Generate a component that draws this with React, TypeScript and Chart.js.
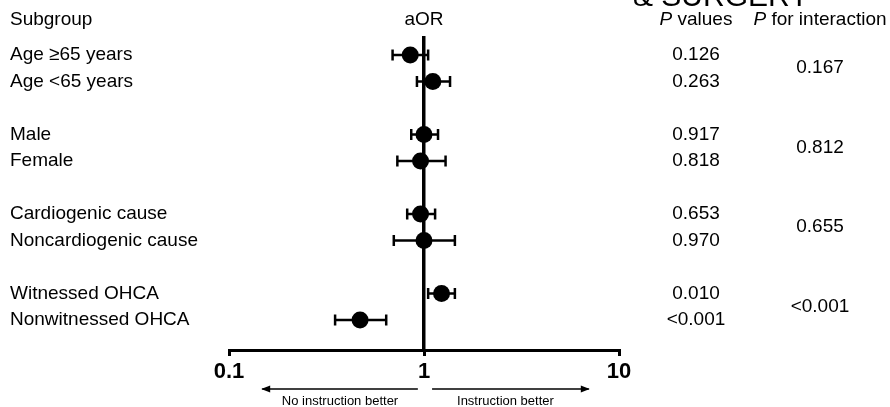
import React, { useEffect, useRef } from "react";
import { Chart, registerables } from "chart.js";

Chart.register(...registerables);

const FONT = '"Liberation Sans", Arial, sans-serif';

const subgroups = [
  "Age ≥65 years",
  "Age <65 years",
  "Male",
  "Female",
  "Cardiogenic cause",
  "Noncardiogenic cause",
  "Witnessed OHCA",
  "Nonwitnessed OHCA",
];
const rowIndex = [0, 1, 3, 4, 6, 7, 9, 10];
const headerRow = -1.32;
const aOR = [0.85, 1.11, 1.0, 0.96, 0.96, 1.0, 1.23, 0.47];
const ciLow = [0.69, 0.92, 0.86, 0.73, 0.82, 0.7, 1.05, 0.35];
const ciHigh = [1.05, 1.36, 1.18, 1.29, 1.14, 1.44, 1.44, 0.64];
const pValues = ["0.126", "0.263", "0.917", "0.818", "0.653", "0.970", "0.010", "<0.001"];
const pInteraction = ["0.167", "0.812", "0.655", "<0.001"];
const xTicks = [0.1, 1, 10];
const arrowLeft = [0.93, 0.148];
const arrowRight = [1.1, 7.0];
const arrowLabels = ["No instruction better", "Instruction better"];

function drawItalicHeader(ctx: CanvasRenderingContext2D, rest: string, cx: number, cy: number) {
  ctx.font = `italic 19px ${FONT}`;
  const wp = ctx.measureText("P").width;
  ctx.font = `19px ${FONT}`;
  const wr = ctx.measureText(" " + rest).width;
  const start = cx - (wp + wr) / 2;
  ctx.textAlign = "left";
  ctx.font = `italic 19px ${FONT}`;
  ctx.fillText("P", start, cy);
  ctx.font = `19px ${FONT}`;
  ctx.fillText(" " + rest, start + wp, cy);
}

function drawArrow(ctx: CanvasRenderingContext2D, x0: number, x1: number, yy: number) {
  ctx.beginPath();
  ctx.moveTo(x0, yy);
  ctx.lineTo(x1, yy);
  ctx.lineWidth = 1.5;
  ctx.strokeStyle = "#000";
  ctx.stroke();
  const dir = x1 > x0 ? 1 : -1;
  ctx.beginPath();
  ctx.moveTo(x1 + dir * 1, yy);
  ctx.lineTo(x1 - dir * 8, yy - 3.5);
  ctx.lineTo(x1 - dir * 8, yy + 3.5);
  ctx.closePath();
  ctx.fillStyle = "#000";
  ctx.fill();
}

const textPlugin = {
  id: "forestText",
  afterDraw(chart: any) {
    const { ctx } = chart;
    const x = chart.scales.x;
    const y = chart.scales.y;
    ctx.save();
    ctx.fillStyle = "#000";
    ctx.textBaseline = "middle";

    // cropped title remnant at the top
    ctx.font = `30px ${FONT}`;
    ctx.textAlign = "left";
    ctx.textBaseline = "alphabetic";
    ctx.fillText("& SURGERY", 633, 6);
    ctx.textBaseline = "middle";

    const hy = y.getPixelForValue(headerRow);
    ctx.font = `19px ${FONT}`;
    ctx.textAlign = "left";
    ctx.fillText("Subgroup", 10, hy);
    subgroups.forEach((s, i) => ctx.fillText(s, 10, y.getPixelForValue(rowIndex[i])));

    ctx.textAlign = "center";
    ctx.fillText("aOR", x.getPixelForValue(1), hy);
    pValues.forEach((p, i) => ctx.fillText(p, 696, y.getPixelForValue(rowIndex[i])));
    pInteraction.forEach((p, k) => {
      const yy = (y.getPixelForValue(rowIndex[2 * k]) + y.getPixelForValue(rowIndex[2 * k + 1])) / 2;
      ctx.fillText(p, 820, yy);
    });
    drawItalicHeader(ctx, "values", 696, hy);
    drawItalicHeader(ctx, "for interaction", 820, hy);

    // arrows
    const ay = 389;
    const l0 = x.getPixelForValue(arrowLeft[0]);
    const l1 = x.getPixelForValue(arrowLeft[1]);
    const r0 = x.getPixelForValue(arrowRight[0]);
    const r1 = x.getPixelForValue(arrowRight[1]);
    drawArrow(ctx, l0, l1, ay);
    drawArrow(ctx, r0, r1, ay);
    ctx.font = `13px ${FONT}`;
    ctx.textAlign = "center";
    ctx.fillStyle = "#000";
    ctx.fillText(arrowLabels[0], (l0 + l1) / 2, 401);
    ctx.fillText(arrowLabels[1], (r0 + r1) / 2 - 5, 401);
    ctx.restore();
  },
};

export default function App() {
  const ref = useRef<HTMLCanvasElement | null>(null);
  useEffect(() => {
    document.body.style.margin = "0";
    const canvas = ref.current;
    if (!canvas) return;
    const pointData = aOR.map((v, i) => ({ x: v, y: rowIndex[i] }));
    const ciSets = aOR.map((_, i) => ({
      data: [
        { x: ciLow[i], y: rowIndex[i] },
        { x: ciHigh[i], y: rowIndex[i] },
      ],
      showLine: true,
      borderColor: "#000",
      borderWidth: 2.5,
      pointStyle: "line" as const,
      rotation: 90,
      pointRadius: 5.5,
      pointBorderWidth: 2.5,
      pointBorderColor: "#000",
      pointBackgroundColor: "#000",
    }));
    const chart = new Chart(canvas, {
      type: "scatter",
      data: {
        datasets: [
          {
            data: pointData,
            pointRadius: 8.5,
            pointBackgroundColor: "#000",
            pointBorderColor: "#000",
            pointBorderWidth: 0,
          } as any,
          ...(ciSets as any[]),
        ],
      },
      options: {
        animation: false,
        responsive: false,
        maintainAspectRatio: false,
        layout: { padding: { left: 229, right: 271, top: 38, bottom: 0 } },
        plugins: { legend: { display: false }, tooltip: { enabled: false } },
        scales: {
          x: {
            type: "logarithmic",
            min: 0.1,
            max: 10,
            position: "bottom",
            afterBuildTicks: (s: any) => {
              s.ticks = xTicks.map((v) => ({ value: v }));
            },
            afterFit: (s: any) => {
              s.height = 57;
            },
            grid: {
              display: true,
              drawOnChartArea: false,
              drawTicks: true,
              tickLength: 6,
              tickWidth: 3,
              color: "#000",
              lineWidth: 3,
            },
            border: { display: true, color: "#000", width: 3 },
            ticks: {
              color: "#000",
              font: { family: FONT, size: 22, weight: "bold" },
              padding: 3,
              maxRotation: 0,
              autoSkip: false,
              callback: (v: any) => String(v),
            },
          } as any,
          y: {
            type: "linear",
            min: -0.642,
            max: 11.132,
            reverse: true,
            position: { x: 1 },
            grid: { display: false },
            ticks: { display: false },
            border: { display: true, color: "#000", width: 3.5 },
          } as any,
        },
      },
      plugins: [textPlugin],
    });
    return () => chart.destroy();
  }, []);
  return (
    <canvas
      ref={ref}
      width={890}
      height={407}
      style={{ display: "block", width: 890, height: 407 }}
    />
  );
}
